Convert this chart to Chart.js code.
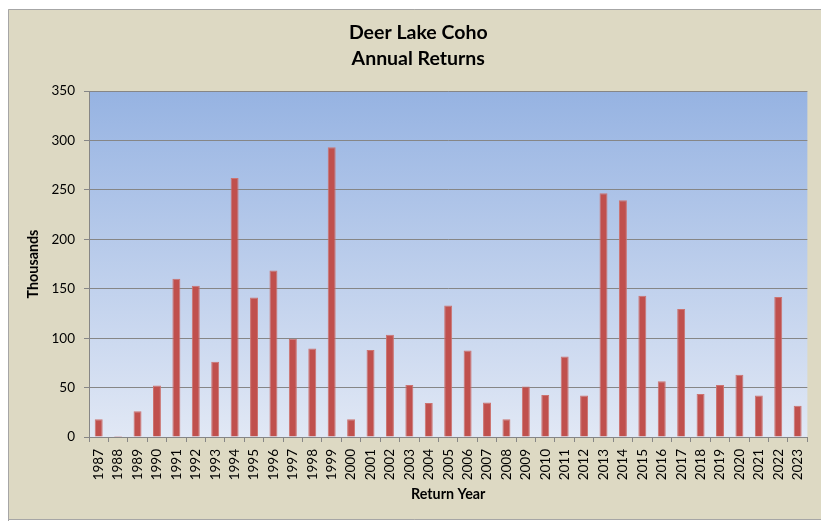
<!DOCTYPE html>
<html>
<head>
<meta charset="utf-8">
<script src="https://cdn.jsdelivr.net/npm/chart.js@4"></script>
<style>
  html, body { margin: 0; padding: 0; background: #ffffff; }
  #wrap { width: 821px; height: 521px; }
</style>
</head>
<body>
<div id="wrap"><canvas id="c" width="821" height="521"></canvas></div>
<script>
const years = ['1987','1988','1989','1990','1991','1992','1993','1994','1995','1996','1997','1998','1999','2000','2001','2002','2003','2004','2005','2006','2007','2008','2009','2010','2011','2012','2013','2014','2015','2016','2017','2018','2019','2020','2021','2022','2023'];
const returnsThousands = [18, 1, 26, 52, 160, 153, 76, 262, 141, 168.5, 99.5, 89.5, 293, 18, 88, 103.5, 52.5, 34.5, 133, 87.5, 35, 18, 51, 42.5, 81.5, 42, 246.5, 239.5, 143, 56.5, 129.5, 43.5, 52.5, 63, 42, 141.5, 31.5];
const titleLines = ['Deer Lake Coho', 'Annual Returns'];
const yTitle = 'Thousands';
const xTitle = 'Return Year';

const bgPlugin = {
  id: 'bg',
  beforeDraw(chart) {
    const ctx = chart.ctx;
    const a = chart.chartArea;
    ctx.save();
    ctx.fillStyle = '#ffffff';
    ctx.fillRect(0, 0, chart.width, chart.height);
    ctx.fillStyle = '#DDD9C3';
    ctx.fillRect(8, 9, chart.width - 8, chart.height - 10);
    ctx.strokeStyle = '#A6A6A6';
    ctx.lineWidth = 1;
    ctx.beginPath();
    ctx.moveTo(8.5, chart.height);
    ctx.lineTo(8.5, 9.5);
    ctx.lineTo(chart.width, 9.5);
    ctx.moveTo(8.5, chart.height - 1.5);
    ctx.lineTo(chart.width, chart.height - 1.5);
    ctx.stroke();
    const g = ctx.createLinearGradient(0, a.top, 0, a.bottom);
    g.addColorStop(0, '#96B3E2');
    g.addColorStop(1, '#E1E8F5');
    ctx.fillStyle = g;
    ctx.fillRect(a.left, a.top, a.right - a.left, a.bottom - a.top);
    ctx.restore();
  }
};

new Chart(document.getElementById('c'), {
  type: 'bar',
  data: {
    labels: years,
    datasets: [{
      data: returnsThousands,
      backgroundColor: '#C0504D',
      borderColor: '#CC7370',
      borderWidth: { top: 1, left: 1, right: 1, bottom: 0 },
      barPercentage: 0.41,
      categoryPercentage: 1.0
    }]
  },
  options: {
    responsive: false,
    devicePixelRatio: 1,
    animation: false,
    layout: { padding: { left: 26, right: 10.5, top: 0, bottom: 0 } },
    plugins: {
      legend: { display: false },
      tooltip: { enabled: false },
      title: {
        display: true,
        text: titleLines,
        color: '#000000',
        font: { family: 'Lato', size: 19.5, weight: 'bold', lineHeight: '26px' },
        padding: { top: 19.5, bottom: 19.5 }
      }
    },
    scales: {
      x: {
        grid: { display: true, drawOnChartArea: false, drawTicks: true, tickLength: 5, color: '#868686', offset: true },
        border: { display: true, color: '#868686', width: 1 },
        ticks: {
          color: '#000000',
          font: { family: 'Lato', size: 13.5 },
          minRotation: 90, maxRotation: 90, autoSkip: false, padding: 7
        },
        title: {
          display: true, text: xTitle, color: '#000000',
          font: { family: 'Lato', size: 14.3, weight: 'bold', lineHeight: 1.2 },
          padding: { top: 0, bottom: 18.5 }
        },
        afterFit(scale) { scale.height = 84; }
      },
      y: {
        min: 0, max: 350,
        grid: { color: '#868686', lineWidth: 1, tickLength: 5, drawTicks: true },
        border: { display: true, color: '#868686', width: 1 },
        ticks: {
          stepSize: 50, color: '#000000', padding: 9,
          font: { family: 'Lato', size: 13.5 }
        },
        title: {
          display: true, text: yTitle, color: '#000000',
          font: { family: 'Lato', size: 14.3, weight: 'bold', lineHeight: 1.2 },
          padding: { top: -1.5, bottom: 0 }
        },
        afterFit(scale) { scale.width = 63; }
      }
    }
  },
  plugins: [bgPlugin]
});
</script>
</body>
</html>
